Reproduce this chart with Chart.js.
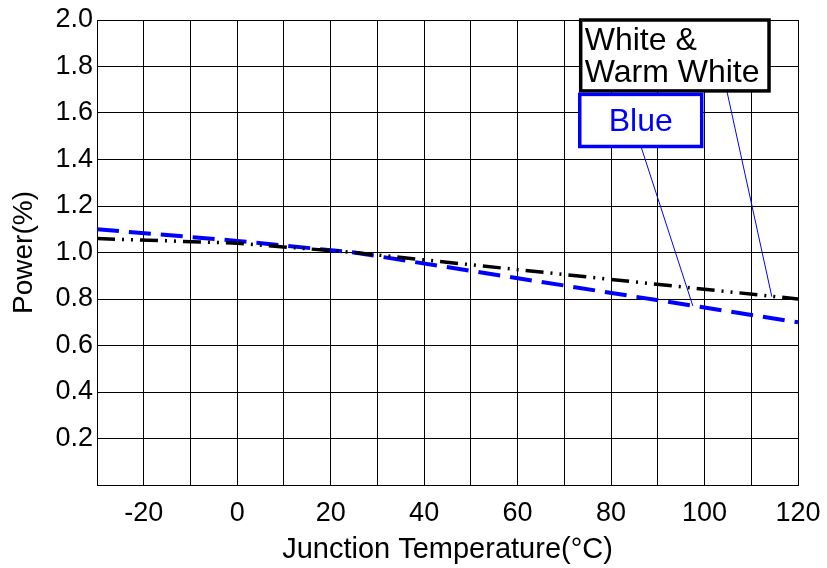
<!DOCTYPE html>
<html>
<head>
<meta charset="utf-8">
<script src="https://cdn.jsdelivr.net/npm/chart.js@4/dist/chart.umd.min.js"></script>
<style>
  html, body { margin: 0; padding: 0; background: #fff; }
  #wrap { width: 827px; height: 568px; }
</style>
</head>
<body>
<div id="wrap"><canvas id="chart" width="827" height="568"></canvas></div>
<script>
// junction temperature (°C)
const whiteTemps = [-30, 0, 25, 120];
const whitePower = [1.06, 1.04, 1.0, 0.80];
const blueTemps = [-30, 0, 25, 120];
const bluePower = [1.10, 1.05, 1.0, 0.70];

const xLabels = [-20, 0, 20, 40, 60, 80, 100, 120];
const yLabels = [0.2, 0.4, 0.6, 0.8, 1.0, 1.2, 1.4, 1.6, 1.8, 2.0];

// callout boxes and leader lines, in axis units
const callouts = [
  { lines: ['White &', 'Warm White'], color: '#000', box: [73.5, 2.0, 113.8, 1.695],
    leader: [[104.5, 1.72], [114.4, 0.81]], align: 'left' },
  { lines: ['Blue'], color: '#0000ff', box: [73.3, 1.68, 99.4, 1.456],
    leader: [[86.4, 1.456], [97.5, 0.77]], align: 'center' }
];

const FONT = '"Liberation Sans", Arial, sans-serif';

const calloutPlugin = {
  id: 'callouts',
  afterDatasetsDraw(chart) {
    const { ctx, scales: { x, y } } = chart;
    ctx.save();
    callouts.forEach(c => {
      // leader
      ctx.strokeStyle = '#0000ff';
      ctx.lineWidth = 1;
      ctx.setLineDash([]);
      ctx.beginPath();
      ctx.moveTo(x.getPixelForValue(c.leader[0][0]), y.getPixelForValue(c.leader[0][1]));
      ctx.lineTo(x.getPixelForValue(c.leader[1][0]), y.getPixelForValue(c.leader[1][1]));
      ctx.stroke();
    });
    callouts.forEach(c => {
      const l = x.getPixelForValue(c.box[0]), t = y.getPixelForValue(c.box[1]);
      const r = x.getPixelForValue(c.box[2]), b = y.getPixelForValue(c.box[3]);
      ctx.fillStyle = '#fff';
      ctx.fillRect(l, t, r - l, b - t);
      ctx.strokeStyle = c.color;
      ctx.lineWidth = 3.5;
      ctx.strokeRect(l, t, r - l, b - t);
      ctx.fillStyle = c.color;
      ctx.font = '32px ' + FONT;
      ctx.textBaseline = 'alphabetic';
      const lh = 32, n = c.lines.length;
      const mid = (t + b) / 2;
      c.lines.forEach((s, i) => {
        const by = mid + (i - (n - 1) / 2) * lh + 11;
        if (c.align === 'center') {
          ctx.textAlign = 'center';
          ctx.fillText(s, (l + r) / 2, by);
        } else {
          ctx.textAlign = 'left';
          ctx.fillText(s, l + 4, by);
        }
      });
    });
    ctx.restore();
  }
};

new Chart(document.getElementById('chart'), {
  type: 'line',
  plugins: [calloutPlugin],
  data: {
    datasets: [
      {
        label: 'White & Warm White',
        data: whiteTemps.map((t, i) => ({ x: t, y: whitePower[i] })),
        borderColor: '#000',
        borderWidth: 3.5,
        borderDash: [18, 7, 2, 7, 2, 7],
        borderCapStyle: 'butt',
        pointRadius: 0,
        tension: 0,
        fill: false
      },
      {
        label: 'Blue',
        data: blueTemps.map((t, i) => ({ x: t, y: bluePower[i] })),
        borderColor: '#0000ff',
        borderWidth: 4,
        borderDash: [22, 10],
        borderCapStyle: 'butt',
        pointRadius: 0,
        tension: 0,
        fill: false
      }
    ]
  },
  options: {
    responsive: false,
    animation: false,
    events: [],
    layout: { padding: { left: 0, right: 29, top: 20, bottom: 0 } },
    plugins: {
      legend: { display: false },
      tooltip: { enabled: false }
    },
    scales: {
      x: {
        type: 'linear',
        min: -30,
        max: 120,
        afterFit(scale) {
          scale.height = 83;
          scale.paddingLeft = 0;
          scale.paddingRight = 0;
        },
        grid: { color: '#000', lineWidth: 1, drawTicks: false },
        border: { color: '#000', width: 1 },
        ticks: {
          stepSize: 10,
          autoSkip: false,
          maxRotation: 0,
          padding: 12,
          color: '#000',
          font: { family: FONT, size: 27 },
          callback: v => xLabels.includes(v) ? String(v) : ''
        },
        title: {
          display: true,
          text: 'Junction Temperature(°C)',
          color: '#000',
          font: { family: FONT, size: 29 },
          padding: { top: 0, bottom: 1 }
        }
      },
      y: {
        type: 'linear',
        min: 0,
        max: 2.0,
        afterFit(scale) {
          scale.width = 97;
          scale.paddingTop = 0;
          scale.paddingBottom = 0;
        },
        grid: { color: '#000', lineWidth: 1, drawTicks: false },
        border: { color: '#000', width: 1 },
        ticks: {
          stepSize: 0.2,
          padding: 4,
          color: '#000',
          font: { family: FONT, size: 27 },
          callback: v => {
            const r = Math.round(v * 10) / 10;
            return yLabels.includes(r) ? r.toFixed(1) : '';
          }
        },
        title: {
          display: true,
          text: 'Power(%)',
          color: '#000',
          font: { family: FONT, size: 28 },
          padding: { top: 7, bottom: 0 }
        }
      }
    }
  }
});
</script>
</body>
</html>
